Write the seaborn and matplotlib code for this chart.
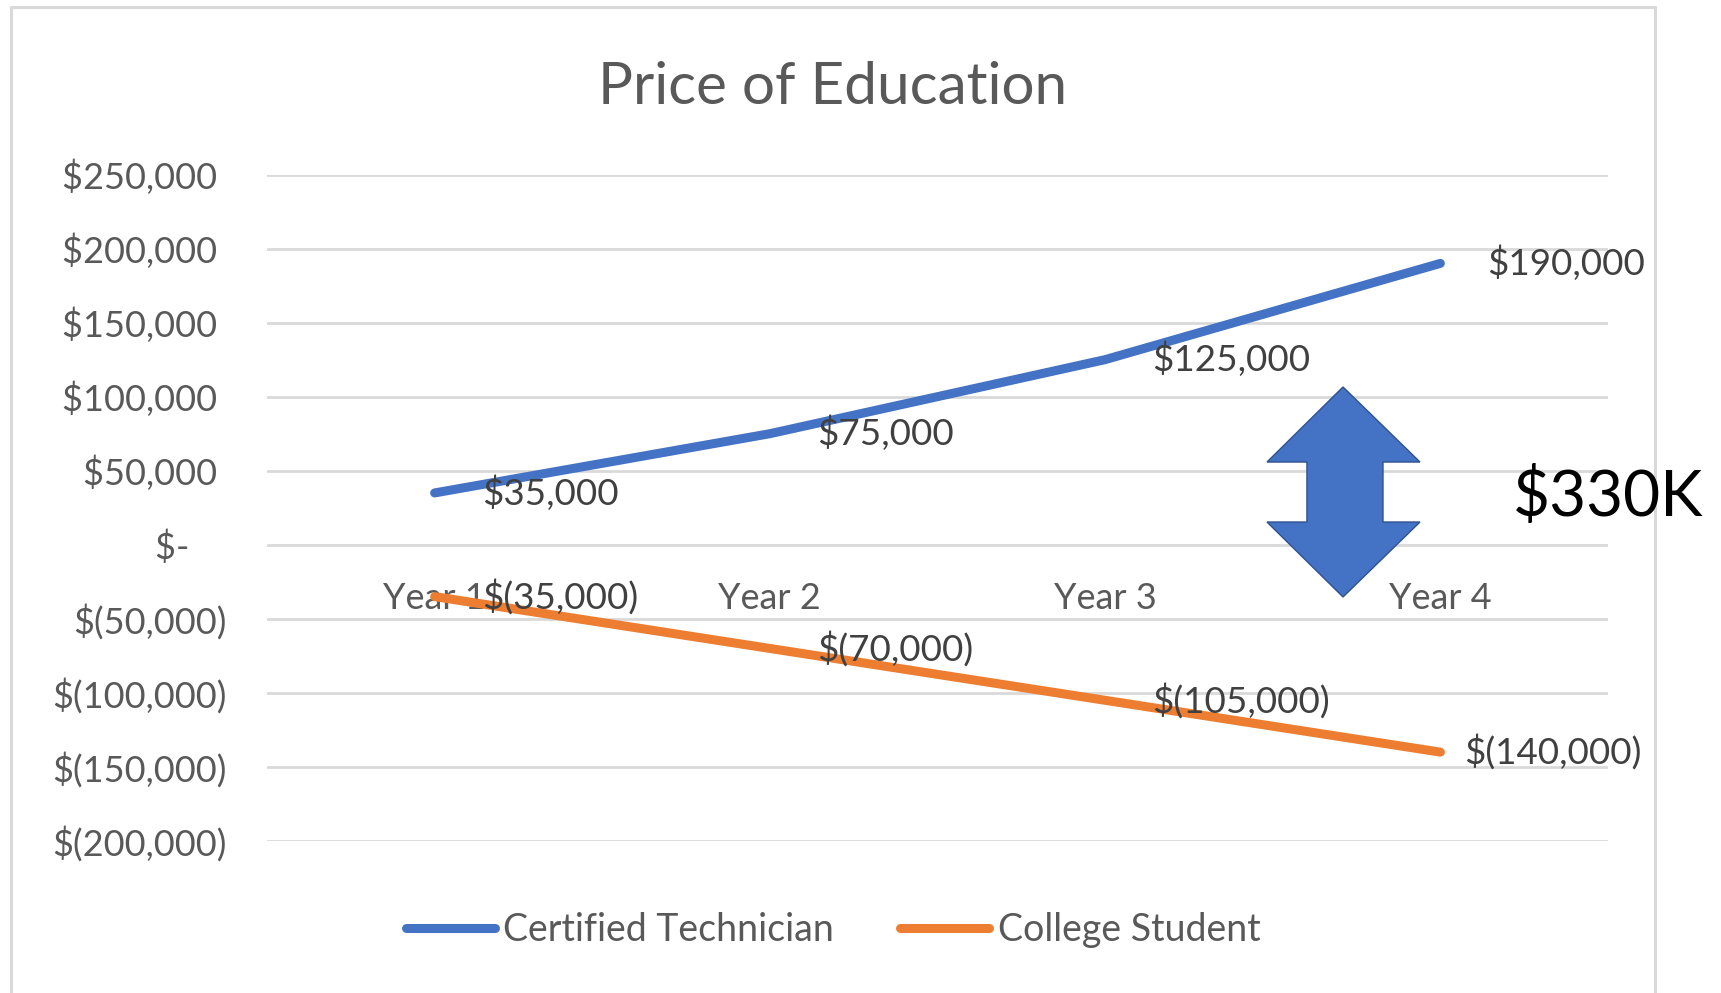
import pandas as pd
import matplotlib.pyplot as plt
import seaborn as sns
from matplotlib.patches import Polygon
from matplotlib.lines import Line2D
from matplotlib.ticker import FuncFormatter

years = ["Year 1", "Year 2", "Year 3", "Year 4"]
technician = [35000, 75000, 125000, 190000]
college = [-35000, -70000, -105000, -140000]
series_names = ["Certified Technician", "College Student"]
y_ticks = [250000, 200000, 150000, 100000, 50000, 0, -50000, -100000, -150000, -200000]
gap_label = "$330K"

df = pd.DataFrame({
    "year": years * 2,
    "value": technician + college,
    "series": [series_names[0]] * 4 + [series_names[1]] * 4,
})

sns.set_theme(style="white")
plt.rcParams['font.family'] = ['Lato', 'DejaVu Sans']

W, H = 1721, 993
fig = plt.figure(figsize=(W / 100, H / 100), dpi=100)
ax = fig.add_axes([267 / W, 152 / H, (1608 - 267) / W, (841 - 174.5) / H])

colors = {"Certified Technician": "#4472C4", "College Student": "#ED7D31"}
sns.lineplot(data=df, x="year", y="value", hue="series", palette=colors,
             sort=False, linewidth=6.5, ax=ax, solid_capstyle="round")

ax.set_xlim(-0.5, 3.5)
ax.set_ylim(-200000, 250000)
ax.set_yticks(y_ticks)


def money(v, pos=None):
    if v > 0:
        return f"${v:,.0f} "
    if v < 0:
        return f"$({-v:,.0f})"
    return "$-    "


ax.yaxis.set_major_formatter(FuncFormatter(money))
ax.grid(axis="y", color="#d9d9d9", linewidth=2)
ax.grid(axis="x", visible=False)
for s in ax.spines.values():
    s.set_visible(False)
ax.spines["bottom"].set_position(("data", 0))
ax.tick_params(axis="y", length=0, pad=29, labelsize=26, labelcolor="#595959")
ax.tick_params(axis="x", length=0, pad=27, labelsize=26, labelcolor="#595959")
ax.set_xlabel("")
ax.set_ylabel("")

# data labels, right of each point (last orange one pulled in to stay inside the chart)
for vals in (technician, college):
    for i, v in enumerate(vals):
        dx = 17 if (vals is college and i == 3) else 34
        ax.annotate(money(v).strip(), (i, v), xytext=(dx, 0), textcoords="offset points",
                    ha="left", va="center", fontsize=26.5, color="#404040")

# double arrow between the two lines
arrow = [(0.8024, 0.6812), (0.8598, 0.5686), (0.8322, 0.5686), (0.8322, 0.4786),
         (0.8598, 0.4786), (0.8024, 0.3661), (0.7457, 0.4786), (0.7755, 0.4786),
         (0.7755, 0.5686), (0.7457, 0.5686)]
ax.add_patch(Polygon(arrow, closed=True, transform=ax.transAxes, facecolor="#4472C4",
                     edgecolor="#2F528F", linewidth=1, clip_on=False, zorder=5))
fig.text(1513 / W, (H - 497) / H, gap_label, fontsize=46, color="black", va="center", ha="left")

fig.text(833 / W, (H - 87) / H, "Price of Education", fontsize=42, color="#595959",
         ha="center", va="center")

handles, labels = ax.get_legend_handles_labels()
for h in handles:
    h.set_solid_capstyle("round")
ax.legend(handles, labels, loc="center", bbox_to_anchor=(833 / W, (H - 930) / H),
          bbox_transform=fig.transFigure, ncol=2, frameon=False, fontsize=27,
          handlelength=2.37, handletextpad=0.23, columnspacing=1.76, labelcolor="#595959")

# chart border
bc = "#d9d9d9"
fig.add_artist(Line2D([11 / W, 11 / W], [0, (H - 7) / H], color=bc, lw=2.2))
fig.add_artist(Line2D([11 / W, 1655 / W], [(H - 7) / H, (H - 7) / H], color=bc, lw=2.2))
fig.add_artist(Line2D([1655 / W, 1655 / W], [0, (H - 7) / H], color=bc, lw=2.2))

fig.savefig("out.png", dpi=100)
